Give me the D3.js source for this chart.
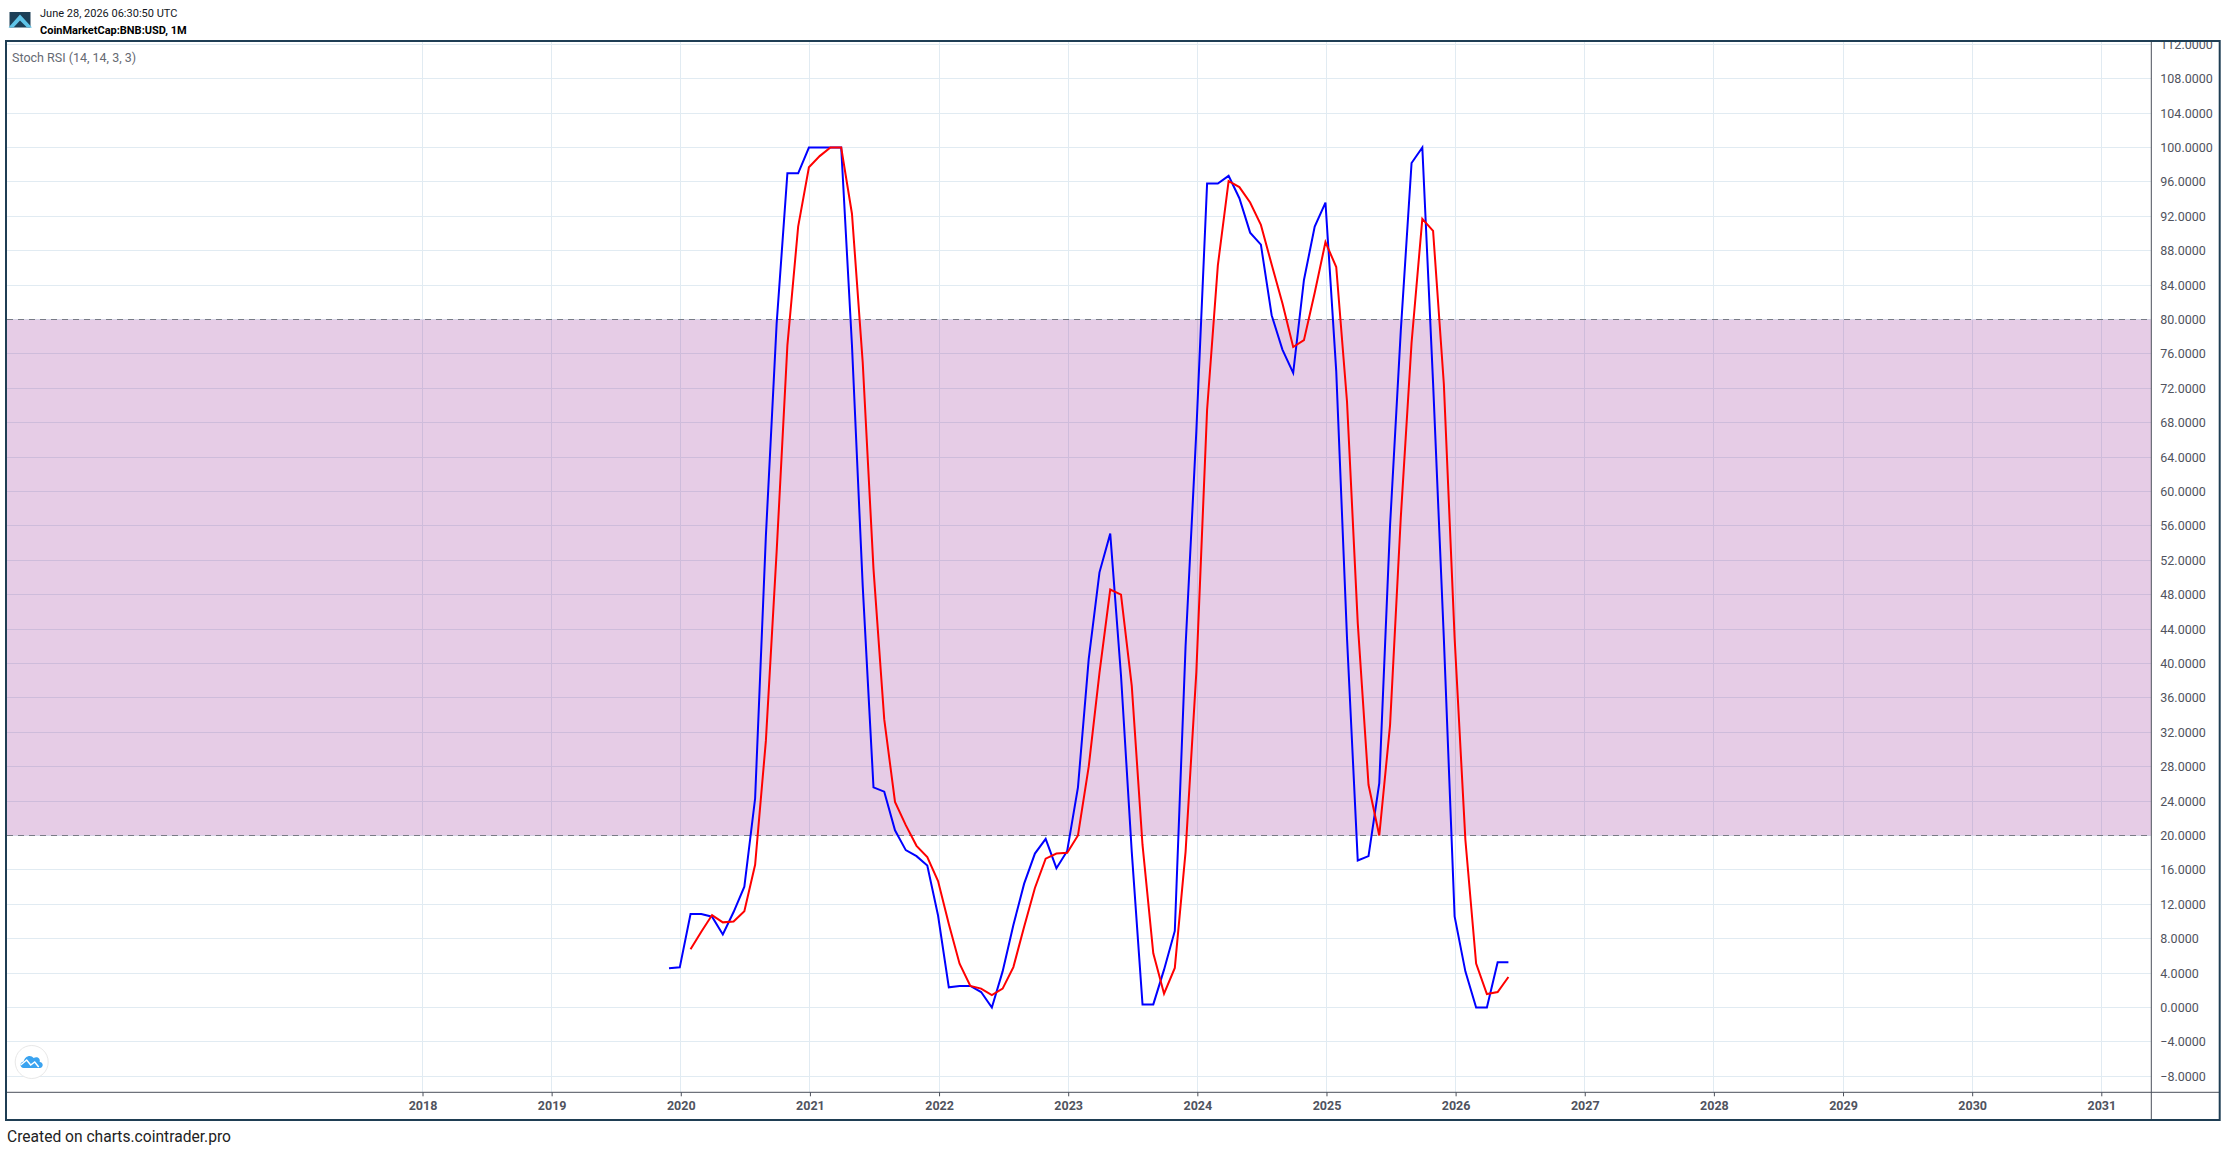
<!DOCTYPE html>
<html><head><meta charset="utf-8">
<script src="https://cdn.jsdelivr.net/npm/d3@7"></script>
<style>
html,body{margin:0;padding:0;background:#fff;overflow:hidden}
svg{display:block}
text{font-family:Roboto,sans-serif}
</style></head><body>
<svg id="c" width="2226" height="1152"></svg>
<script>
const headerDate = "June 28, 2026 06:30:50 UTC";
const headerSymbol = "CoinMarketCap:BNB:USD, 1M";
const studyTitle = "Stoch RSI (14, 14, 3, 3)";
const footerText = "Created on charts.cointrader.pro";
const yearLabels = [2018,2019,2020,2021,2022,2023,2024,2025,2026,2027,2028,2029,2030,2031];
const priceTicks = [-8,-4,0,4,8,12,16,20,24,28,32,36,40,44,48,52,56,60,64,68,72,76,80,84,88,92,96,100,104,108,112];
const bandLevels = [20,80];
const firstMonth = "2019-12";
// %K, monthly from 2019-12
const stochK = [4.56,
 4.67,10.87,10.87,10.56,8.5,11.1,14.05,24.3,54.8,79.5,97,97,
 100,100,100,100,77,49,25.6,25.1,20.6,18.3,17.6,16.5,
 10.7,2.35,2.5,2.5,1.8,0,4.2,9.6,14.4,17.9,19.6,16.2,
 18.2,25.6,40.5,50.6,55.1,38.6,18.1,0.36,0.36,4.4,8.9,42,
 67,95.8,95.8,96.7,94.1,90.1,88.7,80.5,76.5,73.8,84.6,90.8,
 93.6,74,43,17.1,17.6,26.1,56,78.7,98.2,100,72.6,42.9,
 10.6,4.2,0,0,5.25,5.25];
// %D, same months; empty for the first two
const stochD = [null,
 null,6.77,8.8,10.75,9.9,10,11.2,16.6,31,53,77,90.8,
 97.7,99,100,100,92.3,75,51,33.5,23.9,21.2,18.8,17.5,
 14.7,9.7,5.1,2.5,2.2,1.45,2.2,4.7,9.4,13.9,17.3,17.9,
 18,20,28,38.9,48.6,48,37.4,18.9,6.3,1.6,4.6,18.1,
 39,69.5,86.3,96.1,95.4,93.6,91,86.4,81.9,76.8,77.6,83.1,
 89,86.1,70.5,44.7,25.9,20,32.8,57,77.3,91.7,90.3,72.5,
 43,19.5,5.1,1.57,1.8,3.55];

const L=7,R=2151.3,T=42,B=1092.3;
const svg=d3.select("#c");
const [fy,fm]=firstMonth.split("-").map(Number);
const startIdx=(fy-yearLabels[0])*12+fm-1;
const x=d3.scaleLinear().domain([0,(yearLabels[yearLabels.length-1]-yearLabels[0])*12]).range([422.5,2101.3]);
const y=d3.scaleLinear().domain([0,100]).range([1007.5,147.5]);
const crisp=v=>Math.floor(v)+.5;
const defs=svg.append("defs");
defs.append("clipPath").attr("id","plot").append("rect").attr("x",L).attr("y",T).attr("width",R-L).attr("height",B-T);
defs.append("clipPath").attr("id","pane").append("rect").attr("x",L).attr("y",T).attr("width",2219-L).attr("height",B-T);

const plot=svg.append("g").attr("clip-path","url(#plot)");
const gridColor="#e1ebf2";
plot.append("g").selectAll("line").data(priceTicks).join("line")
 .attr("x1",L).attr("x2",R).attr("y1",d=>crisp(y(d))).attr("y2",d=>crisp(y(d)))
 .attr("stroke",gridColor);
plot.append("g").selectAll("line").data(yearLabels).join("line")
 .attr("y1",T).attr("y2",B).attr("x1",d=>crisp(x((d-yearLabels[0])*12))).attr("x2",d=>crisp(x((d-yearLabels[0])*12)))
 .attr("stroke",gridColor);
plot.append("rect").attr("x",L).attr("width",R-L).attr("y",y(bandLevels[1])).attr("height",y(bandLevels[0])-y(bandLevels[1]))
 .attr("fill","rgba(128,0,128,0.2)");
plot.append("g").selectAll("line").data(bandLevels).join("line")
 .attr("x1",L).attr("x2",R).attr("y1",d=>crisp(y(d))).attr("y2",d=>crisp(y(d)))
 .attr("stroke","#787b86").attr("stroke-dasharray","6,5");

const lineGen=d3.line().defined(d=>d!=null).x((d,i)=>x(startIdx+i)-1).y(d=>y(d));
plot.append("path").attr("d",lineGen(stochK)).attr("fill","none").attr("stroke","#0000ff").attr("stroke-width",2).attr("stroke-linejoin","miter");
plot.append("path").attr("d",lineGen(stochD)).attr("fill","none").attr("stroke","#ff0000").attr("stroke-width",2).attr("stroke-linejoin","miter");

// axes
const labColor="#50535e";
const yAxis=svg.append("g").attr("clip-path","url(#pane)").attr("transform",`translate(${R},0)`)
 .call(d3.axisRight(y).tickValues(priceTicks).tickFormat(d3.format(".4f")).tickSize(4).tickPadding(5));
yAxis.select(".domain").remove();
yAxis.selectAll("line").attr("stroke","#4a4f5a");
yAxis.selectAll("text").attr("font-size",12.5).attr("fill",labColor).style("font-family","Roboto,sans-serif");
const xAxis=svg.append("g").attr("transform",`translate(0,${B})`)
 .call(d3.axisBottom(x).tickValues(yearLabels.map(d=>(d-yearLabels[0])*12)).tickFormat(d=>String(yearLabels[0]+d/12)).tickSize(4).tickPadding(5));
xAxis.select(".domain").remove();
xAxis.selectAll("text").attr("font-size",12.5).attr("font-weight",700).attr("fill",labColor).style("font-family","Roboto,sans-serif");
xAxis.selectAll("line").attr("stroke","#4a4f5a");
svg.append("line").attr("x1",L).attr("x2",2219).attr("y1",B).attr("y2",B).attr("stroke","#4a4f5a");
svg.append("line").attr("x1",R).attr("x2",R).attr("y1",T).attr("y2",1120).attr("stroke","#4a4f5a");
// frame
svg.append("rect").attr("x",6).attr("y",41).attr("width",2213.7).attr("height",1079).attr("fill","none").attr("stroke","#1f3e54").attr("stroke-width",2);

// titles
svg.append("text").attr("x",12).attr("y",61.5).attr("font-size",12.5).attr("fill","#666a73").text(studyTitle);
svg.append("text").attr("x",40).attr("y",17).attr("font-size",11).attr("fill","#131722").text(headerDate);
svg.append("text").attr("x",40).attr("y",34).attr("font-size",11).attr("font-weight",700).attr("fill","#000").text(headerSymbol);
svg.append("text").attr("x",7).attr("y",1142).attr("font-size",15.6).attr("fill","#222").text(footerText);

// logo
const logo=svg.append("g");
logo.append("rect").attr("x",9.5).attr("y",12).attr("width",21).attr("height",15.5).attr("fill","#1c3f57");
logo.append("path").attr("d","M8.5 27.5 L20 14.5 L32 27.5 L27 27.5 L20 20.5 L13.5 27.5Z").attr("fill","#5fc4e8");
// site badge
const badge=svg.append("g").attr("transform","translate(31.7,1062)");
badge.append("circle").attr("r",16.5).attr("fill","#fff").attr("stroke","#e8e8e8").attr("stroke-width",1);
badge.append("path").attr("d","M-8 6 C-12 6 -12.5 0 -8 -0.5 C-7 -6 -1 -8 2 -4 C5 -6 9 -4 8 0 C12 0 12 6 8 6 Z").attr("fill","#3aa3f0");
badge.append("path").attr("d","M-11 3 L-5 -2 L-1 3 L3 0 L7 5").attr("fill","none").attr("stroke","#fff").attr("stroke-width",1.5);
</script>
</body></html>
